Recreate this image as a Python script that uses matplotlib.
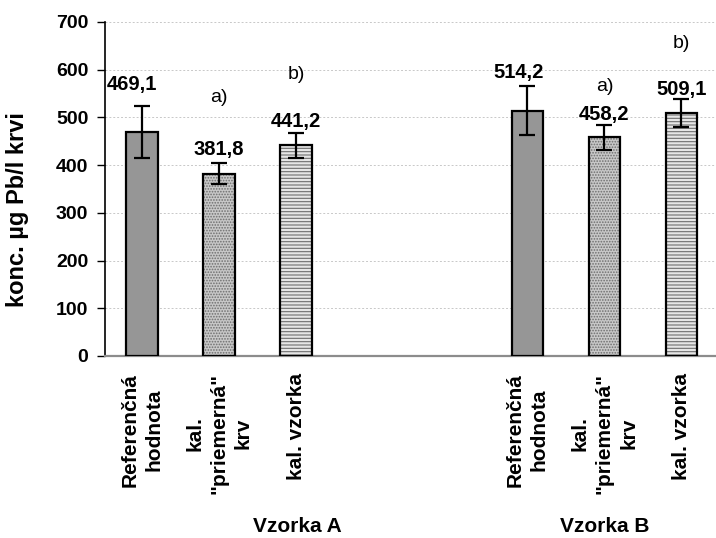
import matplotlib.pyplot as plt

plt.rcParams['font.family'] = ['Liberation Sans', 'DejaVu Sans']
plt.rcParams['hatch.linewidth'] = 0.8

# slots 0-2: Vzorka A, slots 5-7: Vzorka B
slots = [0, 1, 2, 5, 6, 7]
values = [469.1, 381.8, 441.2, 514.2, 458.2, 509.1]
errors = [54, 22, 26, 52, 26, 29]
labels = ['Referenčná\nhodnota', 'kal.\n"priemerná"\nkrv', 'kal. vzorka'] * 2
groups = ['Vzorka A', 'Vzorka B']
# label heights (value, a/b note)
label_y = [570, 432, 491, 595, 507, 558]
notes = ['', 'a)', 'b)', '', 'a)', 'b)']
note_y = [0, 541, 589, 0, 564, 654]
label_dx = [-0.13, 0, 0, -0.12, 0, 0]

faces = ['#969696', '#c8c8c8', '#e6e6e6']
hatches = [None, '......', '-----']
hatch_cols = ['#969696', '#6e6e6e', '#6e6e6e']

fig = plt.figure(figsize=(7.16, 5.38), dpi=100)
ax = fig.add_axes([105 / 716, 1 - 356 / 538, 615 / 716, 334 / 538])

for i, (s, v, e) in enumerate(zip(slots, values, errors)):
    k = i % 3
    ax.bar(s, v, width=0.41, color=faces[k], edgecolor=hatch_cols[k],
           hatch=hatches[k], linewidth=0, zorder=2)
    ax.bar(s, v, width=0.41, fill=False, edgecolor='black', linewidth=1.6, zorder=3)
    ax.errorbar(s, v, yerr=e, fmt='none', ecolor='black', elinewidth=1.6,
                capsize=6, capthick=1.6, zorder=4)
    ax.text(s + label_dx[i], label_y[i], f'{v:.1f}'.replace('.', ','),
            ha='center', va='center', fontsize=14.5, fontweight='bold')
    if notes[i]:
        ax.text(s, note_y[i], notes[i], ha='center', va='center', fontsize=14)

ax.set_xlim(-0.48, 7.5)
ax.set_ylim(0, 700)
ax.set_yticks(range(0, 701, 100))
ax.tick_params(axis='y', direction='out', length=6, width=1, pad=6, labelsize=14)
for t in ax.get_yticklabels():
    t.set_fontweight('bold')
ax.set_xticks(slots)
ax.set_xticklabels(labels, rotation=90, fontsize=15, fontweight='bold',
                   ha='center', va='top', multialignment='center',
                   linespacing=1.35)
ax.tick_params(axis='x', length=0, pad=12)
ax.yaxis.grid(True, color='#c8c8c8', linestyle=(0, (2, 2)), linewidth=0.7)
ax.set_axisbelow(True)
for side in ['top', 'right']:
    ax.spines[side].set_visible(False)
ax.spines['left'].set_linewidth(1.2)
ax.spines['bottom'].set_color('#8c8c8c')
ax.spines['bottom'].set_linewidth(1.6)

fig.text(18 / 716, 1 - 210 / 538, 'konc. µg Pb/l krvi', rotation=90,
         ha='center', va='center', fontsize=17, fontweight='bold')

fig.text(297 / 716, 1 - 527 / 538, groups[0], ha='center', va='center',
         fontsize=15, fontweight='bold')
fig.text(605 / 716, 1 - 527 / 538, groups[1], ha='center', va='center',
         fontsize=15, fontweight='bold')

fig.savefig('out.png', dpi=100)
